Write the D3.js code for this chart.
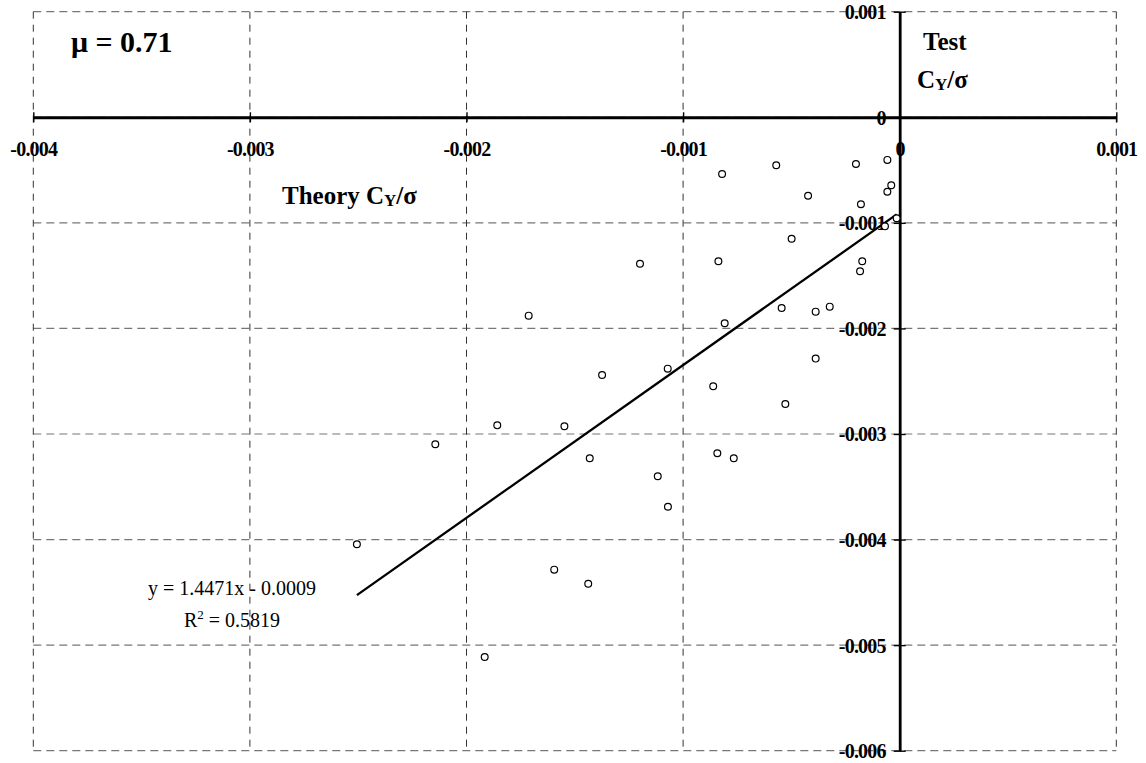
<!DOCTYPE html>
<html>
<head>
<meta charset="utf-8">
<script src="https://cdn.jsdelivr.net/npm/d3@7"></script>
<style>
  body { margin: 0; background: #fff; }
  svg { display: block; }
  text { font-family: "Liberation Serif", "Times New Roman", serif; }
</style>
</head>
<body>
<svg id="chart" width="1146" height="763"></svg>
<script>
// ---- Data ----
const theoryX = [
  -0.000820, -0.000570, -0.000202, -0.000057, -0.000039, -0.000057, -0.000423, -0.000179,
  -0.000014, -0.000068, -0.000499, -0.001199, -0.000837, -0.000173, -0.000183, -0.001713,
  -0.000545, -0.000388, -0.000323, -0.000808, -0.000388, -0.001374, -0.001071, -0.000861,
  -0.000528, -0.001858, -0.001548, -0.001431, -0.001117, -0.001070, -0.000842, -0.000766,
  -0.001595, -0.001438, -0.001916, -0.002144, -0.002506
];
const testY = [
  -0.000537, -0.000455, -0.000442, -0.000404, -0.000644, -0.000705, -0.000743, -0.000824,
  -0.000957, -0.001033, -0.001150, -0.001387, -0.001364, -0.001364, -0.001459, -0.001879,
  -0.001806, -0.001841, -0.001794, -0.001951, -0.002286, -0.002441, -0.002381, -0.002548,
  -0.002716, -0.002918, -0.002927, -0.003230, -0.003401, -0.003689, -0.003183, -0.003230,
  -0.004285, -0.004418, -0.005112, -0.003097, -0.004045
];
const xTicks = [-0.004, -0.003, -0.002, -0.001, 0, 0.001];
const xTickLabels = ["-0.004", "-0.003", "-0.002", "-0.001", "0", "0.001"];
const yTicks = [0.001, 0, -0.001, -0.002, -0.003, -0.004, -0.005, -0.006];
const yTickLabels = ["0.001", "0", "-0.001", "-0.002", "-0.003", "-0.004", "-0.005", "-0.006"];
const trendSlope = 1.4471;
const trendIntercept = -0.0009;
const equationText = "y = 1.4471x - 0.0009";
const r2Value = "0.5819";
const muText = "\u03bc = 0.71";

// ---- Layout ----
const svg = d3.select("#chart");
const pLeft = 33.3, pRight = 1116.3, pTop = 11.7, pBottom = 750.7;
const x = d3.scaleLinear().domain([-0.004, 0.001]).range([pLeft, pRight]);
const y = d3.scaleLinear().domain([-0.006, 0.001]).range([pBottom, pTop]);

// Gridlines (incl. frame)
svg.append("g").selectAll("line").data(yTicks).join("line")
  .attr("x1", pLeft).attr("x2", pRight)
  .attr("y1", d => y(d)).attr("y2", d => y(d))
  .attr("stroke", "#777").attr("stroke-width", 1.2).attr("stroke-dasharray", "8,5");
svg.append("g").selectAll("line").data(xTicks).join("line")
  .attr("y1", pTop).attr("y2", pBottom)
  .attr("x1", d => x(d)).attr("x2", d => x(d))
  .attr("stroke", "#333").attr("stroke-width", 1).attr("stroke-dasharray", "7,6");

// X axis at y=0
const xAxis = d3.axisBottom(x).tickValues(xTicks).tickSize(0).tickFormat(() => "");
const gx = svg.append("g").attr("transform", `translate(0,${y(0)})`).call(xAxis);
gx.select(".domain").attr("stroke", "#000").attr("stroke-width", 2.8);
gx.selectAll(".tick").append("line").attr("y1", -5).attr("y2", 5)
  .attr("stroke", "#000").attr("stroke-width", 1.4);
gx.selectAll(".tick").append("text")
  .attr("y", 39).attr("text-anchor", "middle")
  .attr("fill", "#000").attr("font-size", 20).attr("font-weight", "bold")
  .attr("letter-spacing", -0.8)
  .attr("font-family", "Liberation Serif, serif")
  .text((d, i) => xTickLabels[i]);

// Y axis at x=0
const yAxis = d3.axisLeft(y).tickValues(yTicks).tickSize(0).tickFormat(() => "");
const gy = svg.append("g").attr("transform", `translate(${x(0)},0)`).call(yAxis);
gy.select(".domain").attr("stroke", "#000").attr("stroke-width", 2.8);
gy.selectAll(".tick").append("line").attr("x1", -6).attr("x2", 6)
  .attr("stroke", "#000").attr("stroke-width", 1.4);
gy.selectAll(".tick").append("text")
  .attr("x", -14).attr("dy", "0.35em").attr("text-anchor", "end")
  .attr("fill", "#000").attr("font-size", 20).attr("font-weight", "bold")
  .attr("letter-spacing", -0.8)
  .attr("font-family", "Liberation Serif, serif")
  .text((d, i) => yTickLabels[i]);

// Trendline
const xMin = d3.min(theoryX), xMax = d3.max(theoryX);
svg.append("line")
  .attr("x1", x(xMin)).attr("y1", y(trendSlope * xMin + trendIntercept))
  .attr("x2", x(xMax)).attr("y2", y(trendSlope * xMax + trendIntercept))
  .attr("stroke", "#000").attr("stroke-width", 2.3);

// Points
svg.append("g").selectAll("circle").data(theoryX.map((v, i) => [v, testY[i]])).join("circle")
  .attr("cx", d => x(d[0])).attr("cy", d => y(d[1])).attr("r", 3.4)
  .attr("fill", "#fff").attr("stroke", "#000").attr("stroke-width", 1.2);

// Texts
svg.append("text").attr("x", 71).attr("y", 52)
  .attr("font-size", 30).attr("font-weight", "bold").text(muText);

const tx = svg.append("text").attr("x", 282).attr("y", 204)
  .attr("font-size", 25).attr("font-weight", "bold");
tx.append("tspan").text("Theory C");
tx.append("tspan").attr("font-size", 17).attr("dy", 2).text("Y");
tx.append("tspan").attr("dy", -2).text("/\u03c3");

svg.append("text").attr("x", 923).attr("y", 50)
  .attr("font-size", 25).attr("font-weight", "bold").text("Test");
const ty = svg.append("text").attr("x", 917).attr("y", 88)
  .attr("font-size", 25).attr("font-weight", "bold");
ty.append("tspan").text("C");
ty.append("tspan").attr("font-size", 17).attr("dy", 2).text("Y");
ty.append("tspan").attr("dy", -2).text("/\u03c3");

svg.append("text").attr("x", 232).attr("y", 595).attr("text-anchor", "middle")
  .attr("font-size", 20).text(equationText);
const r2 = svg.append("text").attr("x", 232).attr("y", 627).attr("text-anchor", "middle")
  .attr("font-size", 20);
r2.append("tspan").text("R");
r2.append("tspan").attr("font-size", 13).attr("dy", -8).text("2");
r2.append("tspan").attr("dy", 8).text(" = " + r2Value);
</script>
</body>
</html>
